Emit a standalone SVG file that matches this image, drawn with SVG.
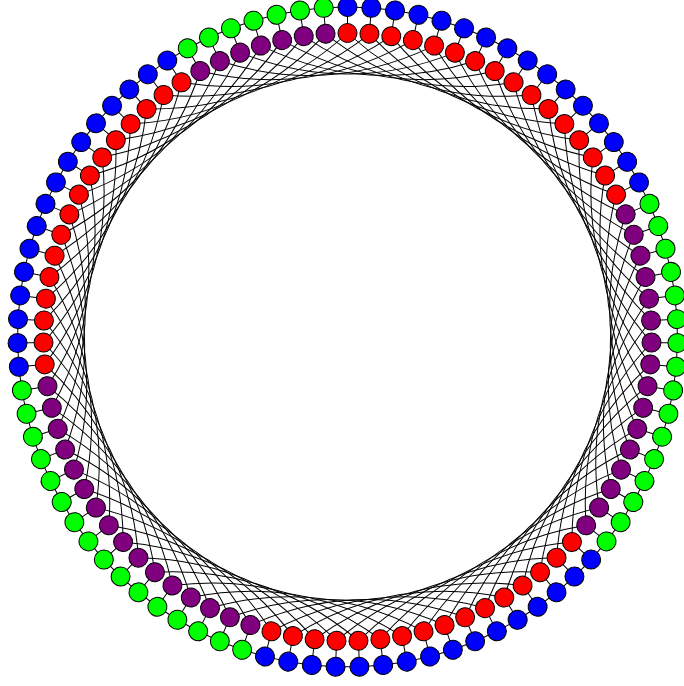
<svg xmlns="http://www.w3.org/2000/svg" xmlns:xlink="http://www.w3.org/1999/xlink" width="684" height="686" viewBox="0 0 684 686">
<style>
.e{fill:none;stroke:#000;stroke-width:1}
.n{stroke:#000;stroke-width:1}
.b{fill:#0000ff}.g{fill:#00ff00}.r{fill:#ff0000}.p{fill:#800080}
</style>
<defs>
<path id="ed" d="M347.5 7L371.31 7.86M347.5 7V33M347.5 33Q432.8 111.14 548.46 108.89"/>
<circle id="on" cx="347.5" cy="7" r="9.5"/>
<circle id="in" cx="347.5" cy="33" r="9.5"/>
</defs>
<rect width="684" height="686" fill="#fff"/>
<g id="connectors" class="e">
<use href="#ed" transform="rotate(0 347.5 337)"/>
<use href="#ed" transform="rotate(4.138 347.5 337)"/>
<use href="#ed" transform="rotate(8.276 347.5 337)"/>
<use href="#ed" transform="rotate(12.414 347.5 337)"/>
<use href="#ed" transform="rotate(16.552 347.5 337)"/>
<use href="#ed" transform="rotate(20.690 347.5 337)"/>
<use href="#ed" transform="rotate(24.828 347.5 337)"/>
<use href="#ed" transform="rotate(28.966 347.5 337)"/>
<use href="#ed" transform="rotate(33.103 347.5 337)"/>
<use href="#ed" transform="rotate(37.241 347.5 337)"/>
<use href="#ed" transform="rotate(41.379 347.5 337)"/>
<use href="#ed" transform="rotate(45.517 347.5 337)"/>
<use href="#ed" transform="rotate(49.655 347.5 337)"/>
<use href="#ed" transform="rotate(53.793 347.5 337)"/>
<use href="#ed" transform="rotate(57.931 347.5 337)"/>
<use href="#ed" transform="rotate(62.069 347.5 337)"/>
<use href="#ed" transform="rotate(66.207 347.5 337)"/>
<use href="#ed" transform="rotate(70.345 347.5 337)"/>
<use href="#ed" transform="rotate(74.483 347.5 337)"/>
<use href="#ed" transform="rotate(78.621 347.5 337)"/>
<use href="#ed" transform="rotate(82.759 347.5 337)"/>
<use href="#ed" transform="rotate(86.897 347.5 337)"/>
<use href="#ed" transform="rotate(91.034 347.5 337)"/>
<use href="#ed" transform="rotate(95.172 347.5 337)"/>
<use href="#ed" transform="rotate(99.310 347.5 337)"/>
<use href="#ed" transform="rotate(103.448 347.5 337)"/>
<use href="#ed" transform="rotate(107.586 347.5 337)"/>
<use href="#ed" transform="rotate(111.724 347.5 337)"/>
<use href="#ed" transform="rotate(115.862 347.5 337)"/>
<use href="#ed" transform="rotate(120 347.5 337)"/>
<use href="#ed" transform="rotate(124.138 347.5 337)"/>
<use href="#ed" transform="rotate(128.276 347.5 337)"/>
<use href="#ed" transform="rotate(132.414 347.5 337)"/>
<use href="#ed" transform="rotate(136.552 347.5 337)"/>
<use href="#ed" transform="rotate(140.690 347.5 337)"/>
<use href="#ed" transform="rotate(144.828 347.5 337)"/>
<use href="#ed" transform="rotate(148.966 347.5 337)"/>
<use href="#ed" transform="rotate(153.103 347.5 337)"/>
<use href="#ed" transform="rotate(157.241 347.5 337)"/>
<use href="#ed" transform="rotate(161.379 347.5 337)"/>
<use href="#ed" transform="rotate(165.517 347.5 337)"/>
<use href="#ed" transform="rotate(169.655 347.5 337)"/>
<use href="#ed" transform="rotate(173.793 347.5 337)"/>
<use href="#ed" transform="rotate(177.931 347.5 337)"/>
<use href="#ed" transform="rotate(182.069 347.5 337)"/>
<use href="#ed" transform="rotate(186.207 347.5 337)"/>
<use href="#ed" transform="rotate(190.345 347.5 337)"/>
<use href="#ed" transform="rotate(194.483 347.5 337)"/>
<use href="#ed" transform="rotate(198.621 347.5 337)"/>
<use href="#ed" transform="rotate(202.759 347.5 337)"/>
<use href="#ed" transform="rotate(206.897 347.5 337)"/>
<use href="#ed" transform="rotate(211.034 347.5 337)"/>
<use href="#ed" transform="rotate(215.172 347.5 337)"/>
<use href="#ed" transform="rotate(219.310 347.5 337)"/>
<use href="#ed" transform="rotate(223.448 347.5 337)"/>
<use href="#ed" transform="rotate(227.586 347.5 337)"/>
<use href="#ed" transform="rotate(231.724 347.5 337)"/>
<use href="#ed" transform="rotate(235.862 347.5 337)"/>
<use href="#ed" transform="rotate(240 347.5 337)"/>
<use href="#ed" transform="rotate(244.138 347.5 337)"/>
<use href="#ed" transform="rotate(248.276 347.5 337)"/>
<use href="#ed" transform="rotate(252.414 347.5 337)"/>
<use href="#ed" transform="rotate(256.552 347.5 337)"/>
<use href="#ed" transform="rotate(260.690 347.5 337)"/>
<use href="#ed" transform="rotate(264.828 347.5 337)"/>
<use href="#ed" transform="rotate(268.966 347.5 337)"/>
<use href="#ed" transform="rotate(273.103 347.5 337)"/>
<use href="#ed" transform="rotate(277.241 347.5 337)"/>
<use href="#ed" transform="rotate(281.379 347.5 337)"/>
<use href="#ed" transform="rotate(285.517 347.5 337)"/>
<use href="#ed" transform="rotate(289.655 347.5 337)"/>
<use href="#ed" transform="rotate(293.793 347.5 337)"/>
<use href="#ed" transform="rotate(297.931 347.5 337)"/>
<use href="#ed" transform="rotate(302.069 347.5 337)"/>
<use href="#ed" transform="rotate(306.207 347.5 337)"/>
<use href="#ed" transform="rotate(310.345 347.5 337)"/>
<use href="#ed" transform="rotate(314.483 347.5 337)"/>
<use href="#ed" transform="rotate(318.621 347.5 337)"/>
<use href="#ed" transform="rotate(322.759 347.5 337)"/>
<use href="#ed" transform="rotate(326.897 347.5 337)"/>
<use href="#ed" transform="rotate(331.034 347.5 337)"/>
<use href="#ed" transform="rotate(335.172 347.5 337)"/>
<use href="#ed" transform="rotate(339.310 347.5 337)"/>
<use href="#ed" transform="rotate(343.448 347.5 337)"/>
<use href="#ed" transform="rotate(347.586 347.5 337)"/>
<use href="#ed" transform="rotate(351.724 347.5 337)"/>
<use href="#ed" transform="rotate(355.862 347.5 337)"/>
</g>
<g id="nodes" class="n">
<g id="o0" transform="rotate(0 347.5 337)"><use href="#on" class="b"/></g><g id="i0" transform="rotate(0 347.5 337)"><use href="#in" class="r"/></g>
<g id="o1" transform="rotate(4.138 347.5 337)"><use href="#on" class="b"/></g><g id="i1" transform="rotate(4.138 347.5 337)"><use href="#in" class="r"/></g>
<g id="o2" transform="rotate(8.276 347.5 337)"><use href="#on" class="b"/></g><g id="i2" transform="rotate(8.276 347.5 337)"><use href="#in" class="r"/></g>
<g id="o3" transform="rotate(12.414 347.5 337)"><use href="#on" class="b"/></g><g id="i3" transform="rotate(12.414 347.5 337)"><use href="#in" class="r"/></g>
<g id="o4" transform="rotate(16.552 347.5 337)"><use href="#on" class="b"/></g><g id="i4" transform="rotate(16.552 347.5 337)"><use href="#in" class="r"/></g>
<g id="o5" transform="rotate(20.690 347.5 337)"><use href="#on" class="b"/></g><g id="i5" transform="rotate(20.690 347.5 337)"><use href="#in" class="r"/></g>
<g id="o6" transform="rotate(24.828 347.5 337)"><use href="#on" class="b"/></g><g id="i6" transform="rotate(24.828 347.5 337)"><use href="#in" class="r"/></g>
<g id="o7" transform="rotate(28.966 347.5 337)"><use href="#on" class="b"/></g><g id="i7" transform="rotate(28.966 347.5 337)"><use href="#in" class="r"/></g>
<g id="o8" transform="rotate(33.103 347.5 337)"><use href="#on" class="b"/></g><g id="i8" transform="rotate(33.103 347.5 337)"><use href="#in" class="r"/></g>
<g id="o9" transform="rotate(37.241 347.5 337)"><use href="#on" class="b"/></g><g id="i9" transform="rotate(37.241 347.5 337)"><use href="#in" class="r"/></g>
<g id="o10" transform="rotate(41.379 347.5 337)"><use href="#on" class="b"/></g><g id="i10" transform="rotate(41.379 347.5 337)"><use href="#in" class="r"/></g>
<g id="o11" transform="rotate(45.517 347.5 337)"><use href="#on" class="b"/></g><g id="i11" transform="rotate(45.517 347.5 337)"><use href="#in" class="r"/></g>
<g id="o12" transform="rotate(49.655 347.5 337)"><use href="#on" class="b"/></g><g id="i12" transform="rotate(49.655 347.5 337)"><use href="#in" class="r"/></g>
<g id="o13" transform="rotate(53.793 347.5 337)"><use href="#on" class="b"/></g><g id="i13" transform="rotate(53.793 347.5 337)"><use href="#in" class="r"/></g>
<g id="o14" transform="rotate(57.931 347.5 337)"><use href="#on" class="b"/></g><g id="i14" transform="rotate(57.931 347.5 337)"><use href="#in" class="r"/></g>
<g id="o15" transform="rotate(62.069 347.5 337)"><use href="#on" class="b"/></g><g id="i15" transform="rotate(62.069 347.5 337)"><use href="#in" class="r"/></g>
<g id="o16" transform="rotate(66.207 347.5 337)"><use href="#on" class="g"/></g><g id="i16" transform="rotate(66.207 347.5 337)"><use href="#in" class="p"/></g>
<g id="o17" transform="rotate(70.345 347.5 337)"><use href="#on" class="g"/></g><g id="i17" transform="rotate(70.345 347.5 337)"><use href="#in" class="p"/></g>
<g id="o18" transform="rotate(74.483 347.5 337)"><use href="#on" class="g"/></g><g id="i18" transform="rotate(74.483 347.5 337)"><use href="#in" class="p"/></g>
<g id="o19" transform="rotate(78.621 347.5 337)"><use href="#on" class="g"/></g><g id="i19" transform="rotate(78.621 347.5 337)"><use href="#in" class="p"/></g>
<g id="o20" transform="rotate(82.759 347.5 337)"><use href="#on" class="g"/></g><g id="i20" transform="rotate(82.759 347.5 337)"><use href="#in" class="p"/></g>
<g id="o21" transform="rotate(86.897 347.5 337)"><use href="#on" class="g"/></g><g id="i21" transform="rotate(86.897 347.5 337)"><use href="#in" class="p"/></g>
<g id="o22" transform="rotate(91.034 347.5 337)"><use href="#on" class="g"/></g><g id="i22" transform="rotate(91.034 347.5 337)"><use href="#in" class="p"/></g>
<g id="o23" transform="rotate(95.172 347.5 337)"><use href="#on" class="g"/></g><g id="i23" transform="rotate(95.172 347.5 337)"><use href="#in" class="p"/></g>
<g id="o24" transform="rotate(99.310 347.5 337)"><use href="#on" class="g"/></g><g id="i24" transform="rotate(99.310 347.5 337)"><use href="#in" class="p"/></g>
<g id="o25" transform="rotate(103.448 347.5 337)"><use href="#on" class="g"/></g><g id="i25" transform="rotate(103.448 347.5 337)"><use href="#in" class="p"/></g>
<g id="o26" transform="rotate(107.586 347.5 337)"><use href="#on" class="g"/></g><g id="i26" transform="rotate(107.586 347.5 337)"><use href="#in" class="p"/></g>
<g id="o27" transform="rotate(111.724 347.5 337)"><use href="#on" class="g"/></g><g id="i27" transform="rotate(111.724 347.5 337)"><use href="#in" class="p"/></g>
<g id="o28" transform="rotate(115.862 347.5 337)"><use href="#on" class="g"/></g><g id="i28" transform="rotate(115.862 347.5 337)"><use href="#in" class="p"/></g>
<g id="o29" transform="rotate(120 347.5 337)"><use href="#on" class="g"/></g><g id="i29" transform="rotate(120 347.5 337)"><use href="#in" class="p"/></g>
<g id="o30" transform="rotate(124.138 347.5 337)"><use href="#on" class="g"/></g><g id="i30" transform="rotate(124.138 347.5 337)"><use href="#in" class="p"/></g>
<g id="o31" transform="rotate(128.276 347.5 337)"><use href="#on" class="g"/></g><g id="i31" transform="rotate(128.276 347.5 337)"><use href="#in" class="p"/></g>
<g id="o32" transform="rotate(132.414 347.5 337)"><use href="#on" class="b"/></g><g id="i32" transform="rotate(132.414 347.5 337)"><use href="#in" class="r"/></g>
<g id="o33" transform="rotate(136.552 347.5 337)"><use href="#on" class="b"/></g><g id="i33" transform="rotate(136.552 347.5 337)"><use href="#in" class="r"/></g>
<g id="o34" transform="rotate(140.690 347.5 337)"><use href="#on" class="b"/></g><g id="i34" transform="rotate(140.690 347.5 337)"><use href="#in" class="r"/></g>
<g id="o35" transform="rotate(144.828 347.5 337)"><use href="#on" class="b"/></g><g id="i35" transform="rotate(144.828 347.5 337)"><use href="#in" class="r"/></g>
<g id="o36" transform="rotate(148.966 347.5 337)"><use href="#on" class="b"/></g><g id="i36" transform="rotate(148.966 347.5 337)"><use href="#in" class="r"/></g>
<g id="o37" transform="rotate(153.103 347.5 337)"><use href="#on" class="b"/></g><g id="i37" transform="rotate(153.103 347.5 337)"><use href="#in" class="r"/></g>
<g id="o38" transform="rotate(157.241 347.5 337)"><use href="#on" class="b"/></g><g id="i38" transform="rotate(157.241 347.5 337)"><use href="#in" class="r"/></g>
<g id="o39" transform="rotate(161.379 347.5 337)"><use href="#on" class="b"/></g><g id="i39" transform="rotate(161.379 347.5 337)"><use href="#in" class="r"/></g>
<g id="o40" transform="rotate(165.517 347.5 337)"><use href="#on" class="b"/></g><g id="i40" transform="rotate(165.517 347.5 337)"><use href="#in" class="r"/></g>
<g id="o41" transform="rotate(169.655 347.5 337)"><use href="#on" class="b"/></g><g id="i41" transform="rotate(169.655 347.5 337)"><use href="#in" class="r"/></g>
<g id="o42" transform="rotate(173.793 347.5 337)"><use href="#on" class="b"/></g><g id="i42" transform="rotate(173.793 347.5 337)"><use href="#in" class="r"/></g>
<g id="o43" transform="rotate(177.931 347.5 337)"><use href="#on" class="b"/></g><g id="i43" transform="rotate(177.931 347.5 337)"><use href="#in" class="r"/></g>
<g id="o44" transform="rotate(182.069 347.5 337)"><use href="#on" class="b"/></g><g id="i44" transform="rotate(182.069 347.5 337)"><use href="#in" class="r"/></g>
<g id="o45" transform="rotate(186.207 347.5 337)"><use href="#on" class="b"/></g><g id="i45" transform="rotate(186.207 347.5 337)"><use href="#in" class="r"/></g>
<g id="o46" transform="rotate(190.345 347.5 337)"><use href="#on" class="b"/></g><g id="i46" transform="rotate(190.345 347.5 337)"><use href="#in" class="r"/></g>
<g id="o47" transform="rotate(194.483 347.5 337)"><use href="#on" class="b"/></g><g id="i47" transform="rotate(194.483 347.5 337)"><use href="#in" class="r"/></g>
<g id="o48" transform="rotate(198.621 347.5 337)"><use href="#on" class="g"/></g><g id="i48" transform="rotate(198.621 347.5 337)"><use href="#in" class="p"/></g>
<g id="o49" transform="rotate(202.759 347.5 337)"><use href="#on" class="g"/></g><g id="i49" transform="rotate(202.759 347.5 337)"><use href="#in" class="p"/></g>
<g id="o50" transform="rotate(206.897 347.5 337)"><use href="#on" class="g"/></g><g id="i50" transform="rotate(206.897 347.5 337)"><use href="#in" class="p"/></g>
<g id="o51" transform="rotate(211.034 347.5 337)"><use href="#on" class="g"/></g><g id="i51" transform="rotate(211.034 347.5 337)"><use href="#in" class="p"/></g>
<g id="o52" transform="rotate(215.172 347.5 337)"><use href="#on" class="g"/></g><g id="i52" transform="rotate(215.172 347.5 337)"><use href="#in" class="p"/></g>
<g id="o53" transform="rotate(219.310 347.5 337)"><use href="#on" class="g"/></g><g id="i53" transform="rotate(219.310 347.5 337)"><use href="#in" class="p"/></g>
<g id="o54" transform="rotate(223.448 347.5 337)"><use href="#on" class="g"/></g><g id="i54" transform="rotate(223.448 347.5 337)"><use href="#in" class="p"/></g>
<g id="o55" transform="rotate(227.586 347.5 337)"><use href="#on" class="g"/></g><g id="i55" transform="rotate(227.586 347.5 337)"><use href="#in" class="p"/></g>
<g id="o56" transform="rotate(231.724 347.5 337)"><use href="#on" class="g"/></g><g id="i56" transform="rotate(231.724 347.5 337)"><use href="#in" class="p"/></g>
<g id="o57" transform="rotate(235.862 347.5 337)"><use href="#on" class="g"/></g><g id="i57" transform="rotate(235.862 347.5 337)"><use href="#in" class="p"/></g>
<g id="o58" transform="rotate(240 347.5 337)"><use href="#on" class="g"/></g><g id="i58" transform="rotate(240 347.5 337)"><use href="#in" class="p"/></g>
<g id="o59" transform="rotate(244.138 347.5 337)"><use href="#on" class="g"/></g><g id="i59" transform="rotate(244.138 347.5 337)"><use href="#in" class="p"/></g>
<g id="o60" transform="rotate(248.276 347.5 337)"><use href="#on" class="g"/></g><g id="i60" transform="rotate(248.276 347.5 337)"><use href="#in" class="p"/></g>
<g id="o61" transform="rotate(252.414 347.5 337)"><use href="#on" class="g"/></g><g id="i61" transform="rotate(252.414 347.5 337)"><use href="#in" class="p"/></g>
<g id="o62" transform="rotate(256.552 347.5 337)"><use href="#on" class="g"/></g><g id="i62" transform="rotate(256.552 347.5 337)"><use href="#in" class="p"/></g>
<g id="o63" transform="rotate(260.690 347.5 337)"><use href="#on" class="g"/></g><g id="i63" transform="rotate(260.690 347.5 337)"><use href="#in" class="p"/></g>
<g id="o64" transform="rotate(264.828 347.5 337)"><use href="#on" class="b"/></g><g id="i64" transform="rotate(264.828 347.5 337)"><use href="#in" class="r"/></g>
<g id="o65" transform="rotate(268.966 347.5 337)"><use href="#on" class="b"/></g><g id="i65" transform="rotate(268.966 347.5 337)"><use href="#in" class="r"/></g>
<g id="o66" transform="rotate(273.103 347.5 337)"><use href="#on" class="b"/></g><g id="i66" transform="rotate(273.103 347.5 337)"><use href="#in" class="r"/></g>
<g id="o67" transform="rotate(277.241 347.5 337)"><use href="#on" class="b"/></g><g id="i67" transform="rotate(277.241 347.5 337)"><use href="#in" class="r"/></g>
<g id="o68" transform="rotate(281.379 347.5 337)"><use href="#on" class="b"/></g><g id="i68" transform="rotate(281.379 347.5 337)"><use href="#in" class="r"/></g>
<g id="o69" transform="rotate(285.517 347.5 337)"><use href="#on" class="b"/></g><g id="i69" transform="rotate(285.517 347.5 337)"><use href="#in" class="r"/></g>
<g id="o70" transform="rotate(289.655 347.5 337)"><use href="#on" class="b"/></g><g id="i70" transform="rotate(289.655 347.5 337)"><use href="#in" class="r"/></g>
<g id="o71" transform="rotate(293.793 347.5 337)"><use href="#on" class="b"/></g><g id="i71" transform="rotate(293.793 347.5 337)"><use href="#in" class="r"/></g>
<g id="o72" transform="rotate(297.931 347.5 337)"><use href="#on" class="b"/></g><g id="i72" transform="rotate(297.931 347.5 337)"><use href="#in" class="r"/></g>
<g id="o73" transform="rotate(302.069 347.5 337)"><use href="#on" class="b"/></g><g id="i73" transform="rotate(302.069 347.5 337)"><use href="#in" class="r"/></g>
<g id="o74" transform="rotate(306.207 347.5 337)"><use href="#on" class="b"/></g><g id="i74" transform="rotate(306.207 347.5 337)"><use href="#in" class="r"/></g>
<g id="o75" transform="rotate(310.345 347.5 337)"><use href="#on" class="b"/></g><g id="i75" transform="rotate(310.345 347.5 337)"><use href="#in" class="r"/></g>
<g id="o76" transform="rotate(314.483 347.5 337)"><use href="#on" class="b"/></g><g id="i76" transform="rotate(314.483 347.5 337)"><use href="#in" class="r"/></g>
<g id="o77" transform="rotate(318.621 347.5 337)"><use href="#on" class="b"/></g><g id="i77" transform="rotate(318.621 347.5 337)"><use href="#in" class="r"/></g>
<g id="o78" transform="rotate(322.759 347.5 337)"><use href="#on" class="b"/></g><g id="i78" transform="rotate(322.759 347.5 337)"><use href="#in" class="r"/></g>
<g id="o79" transform="rotate(326.897 347.5 337)"><use href="#on" class="b"/></g><g id="i79" transform="rotate(326.897 347.5 337)"><use href="#in" class="r"/></g>
<g id="o80" transform="rotate(331.034 347.5 337)"><use href="#on" class="g"/></g><g id="i80" transform="rotate(331.034 347.5 337)"><use href="#in" class="p"/></g>
<g id="o81" transform="rotate(335.172 347.5 337)"><use href="#on" class="g"/></g><g id="i81" transform="rotate(335.172 347.5 337)"><use href="#in" class="p"/></g>
<g id="o82" transform="rotate(339.310 347.5 337)"><use href="#on" class="g"/></g><g id="i82" transform="rotate(339.310 347.5 337)"><use href="#in" class="p"/></g>
<g id="o83" transform="rotate(343.448 347.5 337)"><use href="#on" class="g"/></g><g id="i83" transform="rotate(343.448 347.5 337)"><use href="#in" class="p"/></g>
<g id="o84" transform="rotate(347.586 347.5 337)"><use href="#on" class="g"/></g><g id="i84" transform="rotate(347.586 347.5 337)"><use href="#in" class="p"/></g>
<g id="o85" transform="rotate(351.724 347.5 337)"><use href="#on" class="g"/></g><g id="i85" transform="rotate(351.724 347.5 337)"><use href="#in" class="p"/></g>
<g id="o86" transform="rotate(355.862 347.5 337)"><use href="#on" class="g"/></g><g id="i86" transform="rotate(355.862 347.5 337)"><use href="#in" class="p"/></g>
</g>
</svg>
